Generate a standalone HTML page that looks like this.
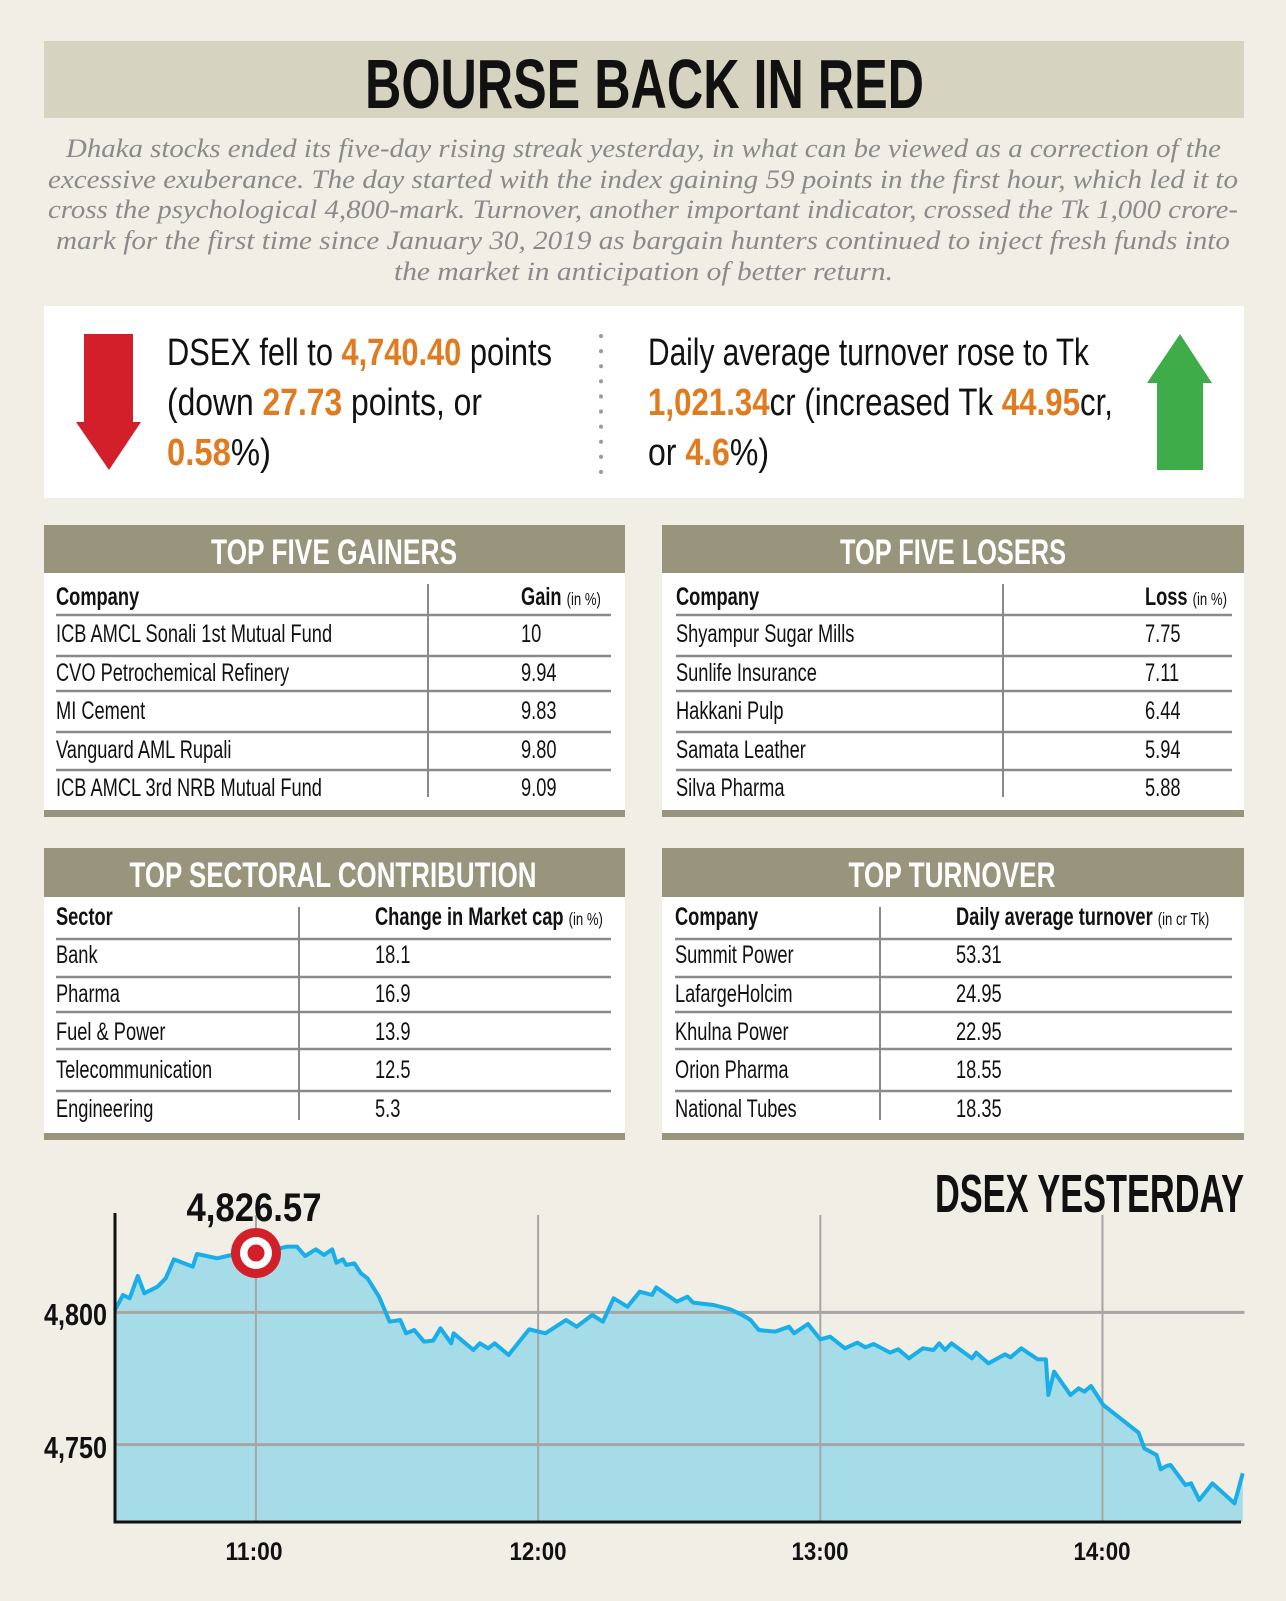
<!DOCTYPE html>
<html><head><meta charset="utf-8"><style>
html,body{margin:0;padding:0;background:#f0eee5;}
svg{display:block}
.c{font-family:"Liberation Sans",Arial,sans-serif;font-size:25px;fill:#111}
.b{font-weight:bold}
.s{font-size:18px;font-weight:normal}
.t{font-family:"Liberation Sans",Arial,sans-serif;font-weight:bold;fill:#fff;font-size:35px}
.o{fill:#e07b20;font-weight:bold}
</style></head><body>
<svg width="1286" height="1601" viewBox="0 0 1286 1601" xmlns="http://www.w3.org/2000/svg">
<rect width="1286" height="1601" fill="#f0eee5"/>
<!-- header -->
<rect x="44" y="41" width="1200" height="77" fill="#d6d3c0"/>
<text x="644.5" y="108" text-anchor="middle" textLength="559" lengthAdjust="spacingAndGlyphs" font-family="Liberation Sans,Arial,sans-serif" font-weight="bold" font-size="70" fill="#111">BOURSE BACK IN RED</text>
<!-- paragraph -->
<g font-family="Liberation Serif,serif" font-style="italic" font-size="26" fill="#8a8a8a" lengthAdjust="spacingAndGlyphs">
<text x="66" y="157" textLength="1155" lengthAdjust="spacingAndGlyphs">Dhaka stocks ended its five-day rising streak yesterday, in what can be viewed as a correction of the</text>
<text x="48" y="188" textLength="1190" lengthAdjust="spacingAndGlyphs">excessive exuberance. The day started with the index gaining 59 points in the first hour, which led it to</text>
<text x="48" y="218" textLength="1190" lengthAdjust="spacingAndGlyphs">cross the psychological 4,800-mark. Turnover, another important indicator, crossed the Tk 1,000 crore-</text>
<text x="56" y="249" textLength="1174" lengthAdjust="spacingAndGlyphs">mark for the first time since January 30, 2019 as bargain hunters continued to inject fresh funds into</text>
<text x="394" y="280" textLength="499" lengthAdjust="spacingAndGlyphs">the market in anticipation of better return.</text>
</g>
<!-- stats box -->
<rect x="44" y="306" width="1200" height="192" fill="#fff"/>
<polygon points="84,334 133,334 133,422 141,422 109,470 76,422 84,422" fill="#d31f2a"/>
<polygon points="1180,334 1212,383 1203,383 1203,470 1157,470 1157,383 1147,383" fill="#3fac4a"/>
<line x1="601" y1="336" x2="601" y2="474" stroke="#9a9a9a" stroke-width="4" stroke-linecap="round" stroke-dasharray="0.1 15"/>
<g font-family="Liberation Sans,Arial,sans-serif" font-size="38" fill="#111">
<text x="167" y="365" textLength="385" lengthAdjust="spacingAndGlyphs">DSEX fell to <tspan class="o">4,740.40</tspan> points</text>
<text x="167" y="415" textLength="315" lengthAdjust="spacingAndGlyphs">(down <tspan class="o">27.73</tspan> points, or</text>
<text x="167" y="465" textLength="104" lengthAdjust="spacingAndGlyphs"><tspan class="o">0.58</tspan>%)</text>
<text x="648" y="365" textLength="441" lengthAdjust="spacingAndGlyphs">Daily average turnover rose to Tk</text>
<text x="648" y="415" textLength="465" lengthAdjust="spacingAndGlyphs"><tspan class="o">1,021.34</tspan>cr (increased Tk <tspan class="o">44.95</tspan>cr,</text>
<text x="648" y="465" textLength="121" lengthAdjust="spacingAndGlyphs">or <tspan class="o">4.6</tspan>%)</text>
</g>

<!-- tables backgrounds -->
<g fill="#99957c">
<rect x="44" y="525" width="581" height="48"/><rect x="44" y="810" width="581" height="7"/>
<rect x="662" y="525" width="582" height="48"/><rect x="662" y="810" width="582" height="7"/>
<rect x="44" y="848" width="581" height="49"/><rect x="44" y="1133" width="581" height="7"/>
<rect x="662" y="848" width="582" height="49"/><rect x="662" y="1133" width="582" height="7"/>
</g>
<g fill="#fff">
<rect x="44" y="573" width="581" height="237"/><rect x="662" y="573" width="582" height="237"/>
<rect x="44" y="897" width="581" height="236"/><rect x="662" y="897" width="582" height="236"/>
</g>
<g class="t" text-anchor="middle">
<text x="334" y="564" textLength="246" lengthAdjust="spacingAndGlyphs">TOP FIVE GAINERS</text>
<text x="953" y="564" textLength="226" lengthAdjust="spacingAndGlyphs">TOP FIVE LOSERS</text>
<text x="333" y="887" textLength="407" lengthAdjust="spacingAndGlyphs">TOP SECTORAL CONTRIBUTION</text>
<text x="952" y="887" textLength="207" lengthAdjust="spacingAndGlyphs">TOP TURNOVER</text>
</g>
<!-- lines -->
<g stroke="#8a8a8a" stroke-width="2.5">
<path d="M56 615H611M56 656H611M56 691H611M56 732H611M56 770H611"/>
<path d="M676 615H1232M676 656H1232M676 691H1232M676 732H1232M676 770H1232"/>
<path d="M56 939H611M56 977H611M56 1012H611M56 1049H611M56 1091H611"/>
<path d="M675 939H1232M675 977H1232M675 1012H1232M675 1049H1232M675 1091H1232"/>
<path d="M428 584V797M1003 584V797M299 907V1120M880 907V1120" stroke-width="2"/>
</g>
<!-- table text -->
<g class="c">
<text transform="translate(56,605) scale(0.73,1)" class="b">Company</text>
<text transform="translate(521,605) scale(0.73,1)"><tspan class="b">Gain</tspan> <tspan class="s">(in %)</tspan></text>
<text transform="translate(56,642) scale(0.73,1)">ICB AMCL Sonali 1st Mutual Fund</text><text transform="translate(521,642) scale(0.73,1)">10</text>
<text transform="translate(56,681) scale(0.73,1)">CVO Petrochemical Refinery</text><text transform="translate(521,681) scale(0.73,1)">9.94</text>
<text transform="translate(56,719) scale(0.73,1)">MI Cement</text><text transform="translate(521,719) scale(0.73,1)">9.83</text>
<text transform="translate(56,758) scale(0.73,1)">Vanguard AML Rupali</text><text transform="translate(521,758) scale(0.73,1)">9.80</text>
<text transform="translate(56,796) scale(0.73,1)">ICB AMCL 3rd NRB Mutual Fund</text><text transform="translate(521,796) scale(0.73,1)">9.09</text>

<text transform="translate(676,605) scale(0.73,1)" class="b">Company</text>
<text transform="translate(1145,605) scale(0.73,1)"><tspan class="b">Loss</tspan> <tspan class="s">(in %)</tspan></text>
<text transform="translate(676,642) scale(0.73,1)">Shyampur Sugar Mills</text><text transform="translate(1145,642) scale(0.73,1)">7.75</text>
<text transform="translate(676,681) scale(0.73,1)">Sunlife Insurance</text><text transform="translate(1145,681) scale(0.73,1)">7.11</text>
<text transform="translate(676,719) scale(0.73,1)">Hakkani Pulp</text><text transform="translate(1145,719) scale(0.73,1)">6.44</text>
<text transform="translate(676,758) scale(0.73,1)">Samata Leather</text><text transform="translate(1145,758) scale(0.73,1)">5.94</text>
<text transform="translate(676,796) scale(0.73,1)">Silva Pharma</text><text transform="translate(1145,796) scale(0.73,1)">5.88</text>

<text transform="translate(56,925) scale(0.73,1)" class="b">Sector</text>
<text transform="translate(375,925) scale(0.73,1)"><tspan class="b">Change in Market cap</tspan> <tspan class="s">(in %)</tspan></text>
<text transform="translate(56,963) scale(0.73,1)">Bank</text><text transform="translate(375,963) scale(0.73,1)">18.1</text>
<text transform="translate(56,1002) scale(0.73,1)">Pharma</text><text transform="translate(375,1002) scale(0.73,1)">16.9</text>
<text transform="translate(56,1040) scale(0.73,1)">Fuel &amp; Power</text><text transform="translate(375,1040) scale(0.73,1)">13.9</text>
<text transform="translate(56,1078) scale(0.73,1)">Telecommunication</text><text transform="translate(375,1078) scale(0.73,1)">12.5</text>
<text transform="translate(56,1117) scale(0.73,1)">Engineering</text><text transform="translate(375,1117) scale(0.73,1)">5.3</text>

<text transform="translate(675,925) scale(0.73,1)" class="b">Company</text>
<text transform="translate(956,925) scale(0.73,1)"><tspan class="b">Daily average turnover</tspan> <tspan class="s">(in cr Tk)</tspan></text>
<text transform="translate(675,963) scale(0.73,1)">Summit Power</text><text transform="translate(956,963) scale(0.73,1)">53.31</text>
<text transform="translate(675,1002) scale(0.73,1)">LafargeHolcim</text><text transform="translate(956,1002) scale(0.73,1)">24.95</text>
<text transform="translate(675,1040) scale(0.73,1)">Khulna Power</text><text transform="translate(956,1040) scale(0.73,1)">22.95</text>
<text transform="translate(675,1078) scale(0.73,1)">Orion Pharma</text><text transform="translate(956,1078) scale(0.73,1)">18.55</text>
<text transform="translate(675,1117) scale(0.73,1)">National Tubes</text><text transform="translate(956,1117) scale(0.73,1)">18.35</text>
</g>

<!-- chart -->
<g transform="translate(0,1150) scale(0.8203,0.33333)">
<polygon fill="#a6dce8" points="140,480 150,435 158,445 168,378 176,430 192,410 202,385 212,328 235,350 240,312 265,325 282,315 312,310 350,290 362,290 372,318 385,298 395,315 405,298 410,338 418,328 422,345 432,340 440,370 448,385 462,440 475,515 488,510 495,550 505,540 517,575 528,572 537,535 550,580 553,550 565,575 577,600 585,580 595,595 603,580 620,615 645,538 665,550 690,510 703,530 722,495 735,515 748,445 765,470 780,425 795,435 800,412 825,455 838,440 845,458 870,465 890,478 905,495 915,510 925,540 945,545 962,530 968,550 985,522 1000,568 1012,560 1030,595 1045,578 1055,592 1065,582 1085,608 1095,598 1108,625 1125,595 1138,600 1145,580 1152,600 1160,580 1185,625 1190,608 1205,640 1225,613 1232,622 1245,595 1265,628 1275,628 1278,735 1285,665 1305,735 1315,715 1322,725 1330,708 1345,765 1388,848 1395,895 1410,915 1415,958 1422,948 1427,945 1445,1005 1452,1000 1462,1050 1478,1000 1505,1060 1515,970 1515,1115 140,1115"/>
<g stroke="#a6a6a6" fill="none">
<path d="M140 487H1517M140 884H1517" stroke-width="3" vector-effect="non-scaling-stroke"/>
<path d="M312 195V1115M656 195V1115M1000 195V1115M1344 195V1115" stroke-width="2" vector-effect="non-scaling-stroke"/>
</g>
<polyline fill="none" stroke="#1aaee8" stroke-width="4" stroke-linejoin="round" vector-effect="non-scaling-stroke" points="140,480 150,435 158,445 168,378 176,430 192,410 202,385 212,328 235,350 240,312 265,325 282,315 312,310 350,290 362,290 372,318 385,298 395,315 405,298 410,338 418,328 422,345 432,340 440,370 448,385 462,440 475,515 488,510 495,550 505,540 517,575 528,572 537,535 550,580 553,550 565,575 577,600 585,580 595,595 603,580 620,615 645,538 665,550 690,510 703,530 722,495 735,515 748,445 765,470 780,425 795,435 800,412 825,455 838,440 845,458 870,465 890,478 905,495 915,510 925,540 945,545 962,530 968,550 985,522 1000,568 1012,560 1030,595 1045,578 1055,592 1065,582 1085,608 1095,598 1108,625 1125,595 1138,600 1145,580 1152,600 1160,580 1185,625 1190,608 1205,640 1225,613 1232,622 1245,595 1265,628 1275,628 1278,735 1285,665 1305,735 1315,715 1322,725 1330,708 1345,765 1388,848 1395,895 1410,915 1415,958 1422,948 1427,945 1445,1005 1452,1000 1462,1050 1478,1000 1505,1060 1515,970"/>
</g>
<path d="M115 1213V1522H1241" stroke="#111" stroke-width="3" fill="none"/>
<circle cx="256" cy="1253" r="25" fill="#d31f2a"/>
<circle cx="256" cy="1253" r="16" fill="#fff"/>
<circle cx="256" cy="1253" r="8.5" fill="#d31f2a"/>
<g font-family="Liberation Sans,Arial,sans-serif" font-weight="bold" fill="#111">
<text x="254" y="1221" text-anchor="middle" font-size="40" textLength="135" lengthAdjust="spacingAndGlyphs">4,826.57</text>
<text x="1244" y="1212" text-anchor="end" font-size="54" textLength="309" lengthAdjust="spacingAndGlyphs">DSEX YESTERDAY</text>
<text x="44" y="1325" font-size="31" textLength="63" lengthAdjust="spacingAndGlyphs">4,800</text>
<text x="44" y="1458" font-size="31" textLength="63" lengthAdjust="spacingAndGlyphs">4,750</text>
<text x="254" y="1560" text-anchor="middle" font-size="25" textLength="57" lengthAdjust="spacingAndGlyphs">11:00</text>
<text x="538" y="1560" text-anchor="middle" font-size="25" textLength="57" lengthAdjust="spacingAndGlyphs">12:00</text>
<text x="820" y="1560" text-anchor="middle" font-size="25" textLength="57" lengthAdjust="spacingAndGlyphs">13:00</text>
<text x="1102" y="1560" text-anchor="middle" font-size="25" textLength="57" lengthAdjust="spacingAndGlyphs">14:00</text>
</g>
</svg>
</body></html>
